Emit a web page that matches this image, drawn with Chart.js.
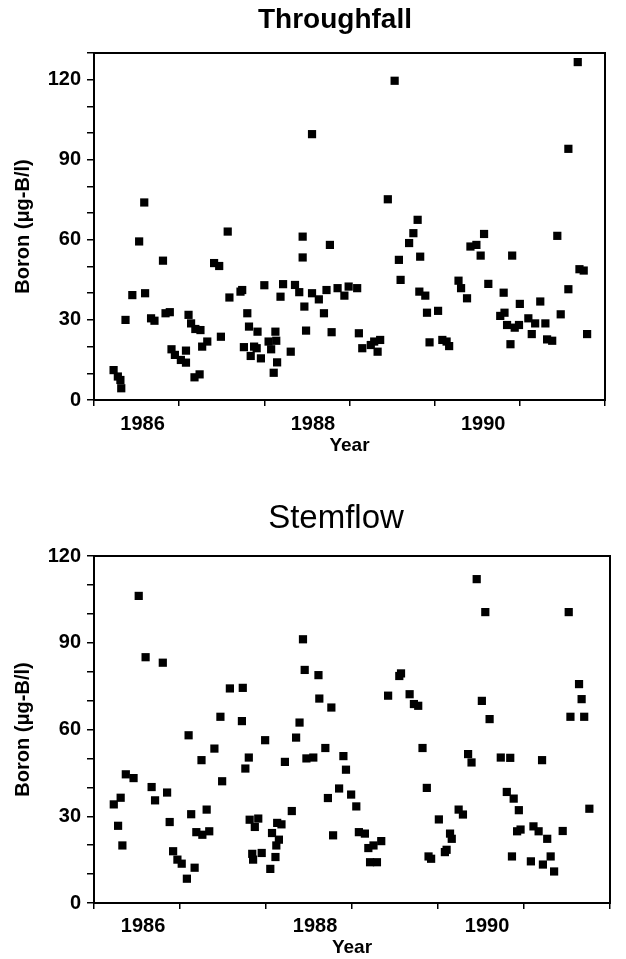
<!DOCTYPE html>
<html>
<head>
<meta charset="utf-8">
<script src="https://cdn.jsdelivr.net/npm/chart.js@4.4.1/dist/chart.umd.min.js"></script>
<style>
  html, body { margin: 0; padding: 0; background: #fff; }
  .panel { position: relative; width: 626px; }
</style>
</head>
<body>
<div class="panel" style="height:470px"><canvas id="throughfall"></canvas></div>
<div class="panel" style="height:489px"><canvas id="stemflow"></canvas></div>
<script>
// tick marks on year boundaries, labels sit inside the year
const tickYears = [1986, 1987, 1988, 1989, 1990, 1991, 1992];
const labelYears = [1986, 1988, 1990];
const yLabelStep = 30;

// Throughfall samples (decimal year, boron ug-B/l)
const throughfallYear = [
  1986.23, 1986.28, 1986.31, 1986.32, 1986.37, 1986.45, 1986.53, 1986.59, 1986.60, 1986.67,
  1986.71, 1986.81, 1986.84, 1986.89, 1986.91, 1986.95, 1987.02, 1987.08, 1987.08, 1987.11,
  1987.14, 1987.19, 1987.25, 1987.18, 1987.24, 1987.27, 1987.33, 1987.41, 1987.47, 1987.49,
  1987.57, 1987.59, 1987.72, 1987.74, 1987.76, 1987.80, 1987.82, 1987.84, 1987.88, 1987.92,
  1987.91, 1987.96, 1988.00, 1988.05, 1988.08, 1988.11, 1988.13, 1988.14, 1988.15, 1988.19,
  1988.22, 1988.31, 1988.36, 1988.41, 1988.45, 1988.45, 1988.47, 1988.49, 1988.56, 1988.56,
  1988.64, 1988.70, 1988.73, 1988.77, 1988.79, 1988.86, 1988.94, 1988.99, 1989.09, 1989.11,
  1989.15, 1989.25, 1989.29, 1989.36, 1989.33, 1989.45, 1989.53, 1989.58, 1989.60, 1989.70,
  1989.75, 1989.80, 1989.83, 1989.82, 1989.89, 1989.91, 1989.94, 1990.04, 1990.09, 1990.14,
  1990.17, 1990.28, 1990.31, 1990.38, 1990.42, 1990.49, 1990.54, 1990.58, 1990.63, 1990.77,
  1990.81, 1990.82, 1990.85, 1990.89, 1990.91, 1990.94, 1990.99, 1991.00, 1991.10, 1991.14,
  1991.18, 1991.24, 1991.30, 1991.32, 1991.38, 1991.44, 1991.48, 1991.57, 1991.57, 1991.68,
  1991.70, 1991.75, 1991.79
];
const throughfallBoron = [
  11.2, 8.8, 7.5, 4.4, 30, 39.3, 59.4, 74, 40, 30.6,
  29.7, 52.2, 32.5, 32.9, 19, 16.9, 15, 18.5, 14, 31.9,
  28.7, 26.6, 26.2, 8.5, 9.6, 20, 21.9, 51.3, 50.2, 23.7,
  63.1, 38.4, 40.6, 41.2, 19.8, 32.5, 27.5, 16.5, 20, 25.6,
  19.4, 15.6, 43, 21.9, 19, 10.2, 25.6, 22.2, 14.1, 38.7,
  43.4, 18.1, 43.1, 40.4, 61.2, 53.4, 35, 26, 99.6, 40,
  37.7, 32.5, 41.2, 58.1, 25.4, 41.9, 39.1, 42.5, 41.9, 25,
  19.4, 20.6, 21.9, 22.5, 18.1, 75.2, 119.6, 52.5, 45, 58.8,
  62.5, 67.5, 53.7, 40.6, 39.1, 32.7, 21.6, 33.4, 22.5, 21.9,
  20.2, 44.7, 41.9, 38.1, 57.5, 58.1, 54.1, 62.2, 43.5, 31.5,
  40.2, 32.7, 28.1, 20.9, 54.1, 27.1, 28.1, 36, 30.6, 24.7,
  28.7, 36.9, 28.7, 22.7, 22.2, 61.5, 32.1, 94.1, 41.5, 126.6,
  49, 48.5, 24.7
];

// Stemflow samples
const stemflowYear = [
  1986.23, 1986.28, 1986.31, 1986.33, 1986.37, 1986.46, 1986.52, 1986.60, 1986.67, 1986.71,
  1986.80, 1986.85, 1986.88, 1986.92, 1986.97, 1987.02, 1987.08, 1987.10, 1987.13, 1987.17,
  1987.19, 1987.26, 1987.25, 1987.31, 1987.34, 1987.40, 1987.47, 1987.49, 1987.58, 1987.72,
  1987.73, 1987.76, 1987.80, 1987.81, 1987.87, 1987.91, 1987.84, 1987.85, 1987.95, 1987.99,
  1988.05, 1988.07, 1988.11, 1988.12, 1988.13, 1988.15, 1988.18, 1988.22, 1988.30, 1988.35,
  1988.39, 1988.43, 1988.45, 1988.47, 1988.55, 1988.61, 1988.62, 1988.69, 1988.72, 1988.76,
  1988.78, 1988.85, 1988.90, 1988.93, 1988.99, 1989.05, 1989.08, 1989.15, 1989.19, 1989.25,
  1989.34, 1989.21, 1989.29, 1989.42, 1989.55, 1989.57, 1989.67, 1989.72, 1989.77, 1989.82,
  1989.87, 1990.01, 1990.14, 1990.16, 1989.89, 1989.92, 1990.08, 1990.10, 1990.24, 1990.29,
  1990.35, 1990.39, 1990.45, 1990.51, 1990.55, 1990.60, 1990.73, 1990.84, 1990.80, 1990.88,
  1990.94, 1990.92, 1990.96, 1990.86, 1991.08, 1991.11, 1991.17, 1991.21, 1991.22, 1991.27,
  1991.31, 1991.35, 1991.45, 1991.52, 1991.54, 1991.64, 1991.67, 1991.70, 1991.76
];
const stemflowBoron = [
  34.1, 26.7, 36.4, 19.9, 44.5, 43.2, 106.2, 85, 40.1, 35.5,
  83.1, 38.2, 28, 17.9, 15, 13.6, 8.4, 58, 30.7, 12.2,
  24.5, 23.6, 49.4, 32.3, 24.8, 53.4, 64.4, 42.1, 74.2, 62.9,
  74.4, 46.5, 50.3, 28.8, 26.3, 29.2, 17, 15, 17.3, 56.3,
  11.8, 24.2, 15.9, 19.9, 27.7, 21.9, 27.2, 48.8, 31.8, 57.2,
  62.4, 91.2, 80.6, 50, 50.3, 78.8, 70.7, 53.6, 36.3, 67.6,
  23.4, 39.6, 50.8, 46.1, 37.5, 33.4, 24.5, 24, 19, 19.9,
  21.4, 14.1, 14.1, 71.7, 78.5, 79.4, 72.2, 68.8, 68.2, 53.6,
  39.8, 28.9, 24, 22.2, 16.1, 15.3, 17.6, 18.4, 32.3, 30.6,
  51.5, 48.6, 112, 69.9, 100.6, 63.6, 50.3, 50.2, 38.4, 36.1,
  32.1, 24.8, 25.4, 16.1, 14.4, 26.5, 24.8, 49.4, 13.3, 22.2,
  16.1, 10.9, 24.9, 100.6, 64.4, 75.7, 70.5, 64.4, 32.6
];

const fontFamily = "'Liberation Sans', Arial, Helvetica, sans-serif";

// draws the box round the plot area
const framePlugin = {
  id: 'frame',
  afterDraw(chart) {
    const { ctx, chartArea: a } = chart;
    ctx.save();
    ctx.strokeStyle = '#000';
    ctx.lineWidth = 2;
    ctx.strokeRect(a.left, a.top, a.right - a.left, a.bottom - a.top);
    ctx.restore();
  }
};

// panel heading, placed a little left of the plot centre like the original
const panelTitlePlugin = {
  id: 'panelTitle',
  afterDraw(chart, args, opts) {
    const ctx = chart.ctx;
    ctx.save();
    ctx.fillStyle = '#000';
    ctx.font = opts.font;
    ctx.textAlign = 'center';
    ctx.textBaseline = 'middle';
    ctx.fillText(opts.text, opts.x, opts.y);
    ctx.restore();
  }
};

function makePanel(canvasId, cfg) {
  const points = cfg.years.map((yr, i) => ({ x: yr, y: cfg.boron[i] }));
  return new Chart(document.getElementById(canvasId), {
    type: 'scatter',
    data: {
      datasets: [{
        label: cfg.title,
        data: points,
        pointStyle: 'rect',
        pointRadius: 5.8,
        pointHoverRadius: 5.8,
        backgroundColor: '#000',
        borderWidth: 0
      }]
    },
    options: {
      responsive: true,
      maintainAspectRatio: false,
      animation: false,
      layout: {
        padding: { left: 0, right: cfg.padRight, top: cfg.padTop, bottom: cfg.padBottom }
      },
      scales: {
        x: {
          type: 'linear',
          min: tickYears[0],
          max: tickYears[tickYears.length - 1],
          afterFit: (scale) => { scale.height = cfg.xHeight; },
          afterBuildTicks: (scale) => {
            const vals = tickYears.concat(labelYears.map(y => y + 0.57));
            vals.sort((a, b) => a - b);
            scale.ticks = vals.map(v => ({ value: v }));
          },
          border: { display: false },
          grid: {
            drawOnChartArea: false,
            drawTicks: true,
            tickLength: 6,
            lineWidth: 1.5,
            tickColor: (ctx) => (ctx.tick && Number.isInteger(ctx.tick.value)) ? '#000' : 'rgba(0,0,0,0)'
          },
          ticks: {
            autoSkip: false,
            maxRotation: 0,
            padding: cfg.xTickPad,
            color: '#000',
            font: { family: fontFamily, size: 20, weight: 'bold' },
            callback: (value) => Number.isInteger(value) ? '' : String(Math.floor(value))
          },
          title: {
            display: true,
            text: 'Year',
            color: '#000',
            padding: { top: 0, bottom: 0 },
            font: { family: fontFamily, size: 19, weight: 'bold' }
          }
        },
        y: {
          min: 0,
          max: cfg.yMax,
          afterFit: (scale) => { scale.width = 94; },
          border: { display: false },
          grid: {
            drawOnChartArea: false,
            drawTicks: true,
            tickLength: 7,
            lineWidth: 1.5,
            tickColor: '#000'
          },
          ticks: {
            stepSize: 10,
            autoSkip: false,
            padding: 6,
            color: '#000',
            font: { family: fontFamily, size: 20, weight: 'bold' },
            callback: (value) => value % yLabelStep === 0 ? String(value) : ''
          },
          title: {
            display: true,
            text: 'Boron (\u03bcg-B/l)',
            color: '#000',
            padding: { top: 11, bottom: 0 },
            font: { family: fontFamily, size: 20, weight: 'bold' }
          }
        }
      },
      plugins: {
        legend: { display: false },
        tooltip: { enabled: false },
        panelTitle: { text: cfg.title, font: cfg.titleFont, x: cfg.titleX, y: cfg.titleY }
      }
    },
    plugins: [framePlugin, panelTitlePlugin]
  });
}

makePanel('throughfall', {
  title: 'Throughfall',
  titleFont: "bold 28px " + fontFamily,
  titleX: 335,
  titleY: 20,
  years: throughfallYear,
  boron: throughfallBoron,
  yMax: 130,
  padTop: 53,
  padRight: 21,
  padBottom: 13,
  xHeight: 57,
  xTickPad: 6
});

makePanel('stemflow', {
  title: 'Stemflow',
  titleFont: "33px " + fontFamily,
  titleX: 336,
  titleY: 49,
  years: stemflowYear,
  boron: stemflowBoron,
  yMax: 120,
  padTop: 86,
  padRight: 16,
  padBottom: 0,
  xHeight: 56,
  xTickPad: 5
});
</script>
</body>
</html>
